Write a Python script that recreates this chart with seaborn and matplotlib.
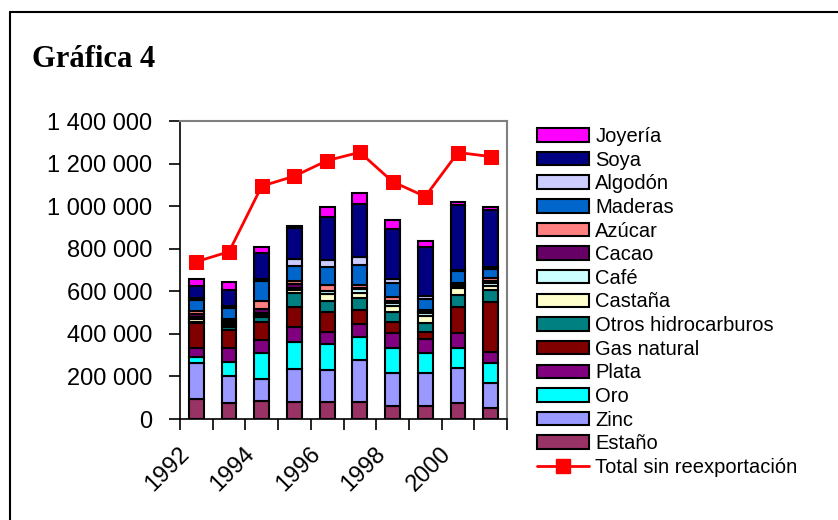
import matplotlib
matplotlib.use("Agg")
import matplotlib.pyplot as plt
import matplotlib.transforms as mtransforms
from matplotlib.patches import Patch
from matplotlib.lines import Line2D
from matplotlib.ticker import FuncFormatter
import numpy as np
import pandas as pd
import seaborn as sns

# Exportaciones por producto (miles), 1992-2001
years = [1992, 1993, 1994, 1995, 1996, 1997, 1998, 1999, 2000, 2001]
estano = [92, 77, 85, 81, 78, 78, 61, 61, 77, 50]
zinc = [173, 125, 105, 152, 152, 199, 157, 157, 164, 121]
oro = [25, 68, 119, 131, 121, 107, 114, 94, 91, 94]
plata = [42, 62, 63, 70, 60, 63, 74, 64, 74, 52]
gas_natural = [118, 86, 86, 94, 94, 65, 52, 35, 122, 235]
otros_hidro = [8, 13, 20, 63, 51, 55, 47, 39, 55, 54]
castana = [14, 11, 9, 15, 30, 24, 28, 34, 31, 21]
cafe = [6, 11, 10, 11, 13, 19, 14, 13, 11, 11]
cacao = [16, 8, 19, 15, 4, 7, 9, 8, 8, 8]
azucar = [15, 8, 40, 14, 27, 13, 19, 7, 5, 15]
maderas = [50, 51, 93, 73, 86, 94, 66, 51, 58, 44]
algodon = [8, 11, 8, 32, 31, 39, 16, 15, 4, 8]
soya = [58, 75, 122, 145, 201, 246, 235, 229, 306, 270]
joyeria = [32, 36, 27, 13, 50, 55, 43, 27, 13, 12]
total = [739, 786, 1094, 1141, 1214, 1253, 1115, 1045, 1252, 1233]
year_labels = ['1992', '1994', '1996', '1998', '2000']

# legend / stacking order, top first
series = {
    'Joyería': joyeria,
    'Soya': soya,
    'Algodón': algodon,
    'Maderas': maderas,
    'Azúcar': azucar,
    'Cacao': cacao,
    'Café': cafe,
    'Castaña': castana,
    'Otros hidrocarburos': otros_hidro,
    'Gas natural': gas_natural,
    'Plata': plata,
    'Oro': oro,
    'Zinc': zinc,
    'Estaño': estano,
}
colors = {
    'Joyería': '#FF00FF',
    'Soya': '#000080',
    'Algodón': '#CCCCFF',
    'Maderas': '#0066CC',
    'Azúcar': '#FF8080',
    'Cacao': '#660066',
    'Café': '#CCFFFF',
    'Castaña': '#FFFFCC',
    'Otros hidrocarburos': '#008080',
    'Gas natural': '#800000',
    'Plata': '#800080',
    'Oro': '#00FFFF',
    'Zinc': '#9999FF',
    'Estaño': '#993366',
}

rows = []
for name, vals in series.items():
    for y, v in zip(years, vals):
        rows.append({'year': y, 'producto': name, 'valor': v * 1000})
df = pd.DataFrame(rows)

sns.set_theme(style='ticks', rc={'text.color': 'black', 'xtick.color': 'black',
                                 'ytick.color': 'black', 'axes.labelcolor': 'black'})
plt.rcParams['font.family'] = ['Liberation Sans', 'DejaVu Sans']

fig = plt.figure(figsize=(8.38, 5.2), dpi=100)
ax = fig.add_axes([180 / 838, 1 - 419 / 520, 327 / 838, 298 / 520])

sns.histplot(data=df, x='year', weights='valor', hue='producto',
             hue_order=list(series.keys()), palette=colors,
             multiple='stack', discrete=True, shrink=0.45,
             edgecolor='black', linewidth=1.5, alpha=1, legend=False, ax=ax)

sns.lineplot(x=years, y=[t * 1000 for t in total], color='red', marker='s',
             markersize=10, markeredgecolor='red', linewidth=2, ax=ax,
             legend=False, zorder=5)

ax.set_xlim(1991.5, 2001.5)
ax.set_ylim(0, 1400000)
ax.set_yticks(np.arange(0, 1400001, 200000))
ax.yaxis.set_major_formatter(FuncFormatter(lambda v, p: f"{v:,.0f}".replace(',', ' ')))
ax.set_xlabel('')
ax.set_ylabel('')

ax.set_xticks(np.arange(1991.5, 2002, 1))
ax.set_xticklabels([])
ax.set_xticks([1992, 1994, 1996, 1998, 2000], minor=True)
ax.set_xticklabels(year_labels, minor=True,
                   rotation=45, ha='right', va='top', rotation_mode='anchor')
ax.tick_params(axis='x', which='minor', length=0, pad=17, labelsize=17)
ax.tick_params(axis='x', which='major', length=8, width=1.2, direction='out', color='black')
ax.tick_params(axis='y', length=8, width=1.2, direction='out', pad=12, labelsize=17, color='black')
shift = mtransforms.ScaledTranslation(-18 / 100, 0, fig.dpi_scale_trans)
for lab in ax.get_xticklabels(minor=True):
    lab.set_transform(lab.get_transform() + shift)

for s in ['left', 'bottom']:
    ax.spines[s].set_color('black')
    ax.spines[s].set_linewidth(1.2)
for s in ['top', 'right']:
    ax.spines[s].set_visible(True)
    ax.spines[s].set_color('#808080')
    ax.spines[s].set_linewidth(1.5)

handles = [Patch(facecolor=colors[n], edgecolor='black', linewidth=1.5, label=n) for n in series]
handles.append(Line2D([0], [0], color='red', lw=2, marker='s', markersize=10,
                      markeredgecolor='red', label='Total sin reexportación'))
fig.legend(handles=handles, loc='upper left', bbox_to_anchor=(537 / 838, 1 - 127 / 520),
           frameon=False, fontsize=14.5, handlelength=2.6, handleheight=0.65,
           handletextpad=0.3, labelspacing=0.23, borderpad=0, borderaxespad=0)

fig.text(32 / 838, 1 - 67 / 520, 'Gráfica 4', family='Liberation Serif',
         fontweight='bold', fontsize=22, va='baseline', color='black')

# outer frame
fig.add_artist(Line2D([10 / 838, 1], [1 - 12 / 520, 1 - 12 / 520], transform=fig.transFigure, color='black', lw=1.5))
fig.add_artist(Line2D([10 / 838, 10 / 838], [1 - 12 / 520, 0], transform=fig.transFigure, color='black', lw=1.5))

fig.savefig('out.png', dpi=100)
